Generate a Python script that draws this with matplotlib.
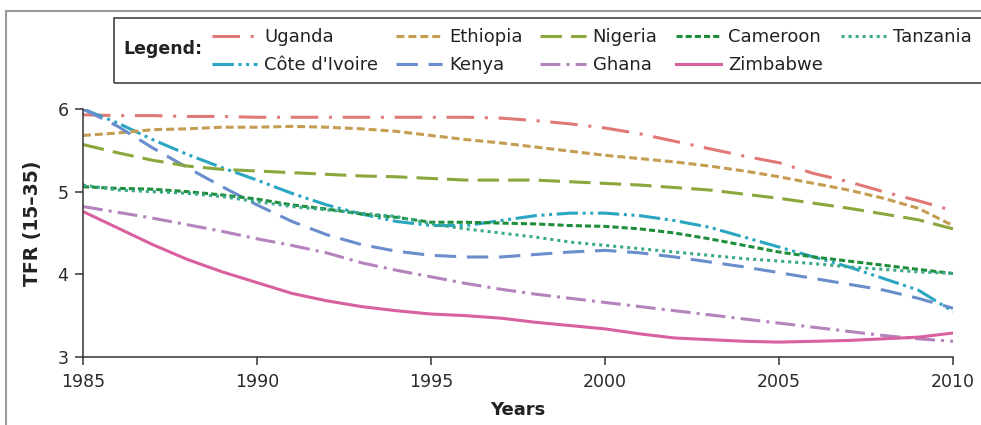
import matplotlib.pyplot as plt
from matplotlib.patches import Rectangle

plt.rcParams['font.family'] = ['DejaVu Sans']

years = list(range(1985, 2011))

uganda = [5.93, 5.92, 5.92, 5.91, 5.91, 5.90, 5.90, 5.90, 5.90, 5.90, 5.90, 5.90, 5.89,
          5.86, 5.82, 5.77, 5.70, 5.61, 5.52, 5.43, 5.35, 5.22, 5.12, 5.00, 4.89, 4.77]
ethiopia = [5.68, 5.71, 5.75, 5.76, 5.78, 5.78, 5.79, 5.78, 5.76, 5.73, 5.68, 5.63, 5.59,
            5.54, 5.49, 5.44, 5.40, 5.36, 5.31, 5.25, 5.18, 5.10, 5.02, 4.92, 4.80, 4.59]
nigeria = [5.57, 5.47, 5.38, 5.31, 5.27, 5.25, 5.23, 5.21, 5.19, 5.18, 5.16, 5.14, 5.14,
           5.14, 5.12, 5.10, 5.08, 5.05, 5.02, 4.97, 4.92, 4.86, 4.80, 4.73, 4.66, 4.55]
cameroon = [5.06, 5.04, 5.03, 5.00, 4.96, 4.91, 4.84, 4.79, 4.73, 4.69, 4.63, 4.63, 4.62,
            4.61, 4.59, 4.58, 4.55, 4.50, 4.43, 4.35, 4.27, 4.21, 4.16, 4.11, 4.06, 4.01]
tanzania = [5.08, 5.02, 5.00, 4.98, 4.94, 4.88, 4.82, 4.78, 4.74, 4.70, 4.61, 4.55, 4.50,
            4.45, 4.39, 4.35, 4.31, 4.27, 4.23, 4.19, 4.16, 4.13, 4.09, 4.06, 4.03, 4.01]
cote = [6.00, 5.83, 5.63, 5.45, 5.29, 5.14, 4.98, 4.84, 4.73, 4.64, 4.59, 4.59, 4.65,
        4.71, 4.74, 4.74, 4.71, 4.65, 4.57, 4.45, 4.33, 4.21, 4.09, 3.95, 3.81, 3.55]
kenya = [6.00, 5.79, 5.53, 5.29, 5.06, 4.84, 4.64, 4.48, 4.36, 4.28, 4.23, 4.21, 4.21,
         4.24, 4.27, 4.29, 4.26, 4.21, 4.15, 4.09, 4.02, 3.95, 3.88, 3.81, 3.71, 3.59]
ghana = [4.82, 4.75, 4.68, 4.60, 4.52, 4.43, 4.35, 4.26, 4.14, 4.05, 3.97, 3.89, 3.82,
         3.76, 3.71, 3.66, 3.61, 3.56, 3.51, 3.46, 3.41, 3.36, 3.31, 3.26, 3.22, 3.19]
zimbabwe = [4.76, 4.56, 4.36, 4.18, 4.03, 3.90, 3.77, 3.68, 3.61, 3.56, 3.52, 3.50, 3.47,
            3.42, 3.38, 3.34, 3.28, 3.23, 3.21, 3.19, 3.18, 3.19, 3.20, 3.22, 3.24, 3.29]

# legend order is column-wise so rows read like the original
series = [
    ("Uganda", uganda, "#e07876", (0, (9, 3.5, 1, 3.5))),
    ("Côte d'Ivoire", cote, "#2aa5c2", (0, (7, 1.5, 1, 1.5, 1, 1.5))),
    ("Ethiopia", ethiopia, "#c49d52", (0, (2.6, 1.3))),
    ("Kenya", kenya, "#6a8ecb", (0, (7, 3.5))),
    ("Nigeria", nigeria, "#8ba63c", (0, (7, 3))),
    ("Ghana", ghana, "#b482bd", (0, (6.5, 2, 1, 2))),
    ("Cameroon", cameroon, "#1f8e3c", (0, (2, 1))),
    ("Zimbabwe", zimbabwe, "#d9609e", "-"),
    ("Tanzania", tanzania, "#3aa98a", (0, (1, 1.3))),
]

fig = plt.figure(figsize=(9.81, 4.25), dpi=100)
ax = fig.add_axes([83 / 981, 1 - 357 / 425, (953 - 83) / 981, (357 - 109) / 425])

for name, vals, col, ls in series:
    ax.plot(years, vals, color=col, linestyle=ls, linewidth=2.2, label=name)

ax.set_xlim(1985, 2010)
ax.set_ylim(3, 6)
ax.set_xticks([1985, 1990, 1995, 2000, 2005, 2010])
ax.set_yticks([3, 4, 5, 6])
ax.spines['top'].set_visible(False)
ax.spines['right'].set_visible(False)
for s in ['left', 'bottom']:
    ax.spines[s].set_color('#333333')
    ax.spines[s].set_linewidth(1.1)
ax.tick_params(colors='#333333', labelcolor='#2a2a2a', labelsize=12.5, length=5.5, width=1.1)
ax.tick_params(axis='x', pad=6)
ax.tick_params(axis='y', pad=5)
ax.set_xlabel("Years", fontsize=13, fontweight='bold', color='#222222', labelpad=7)
ax.set_ylabel("TFR (15–35)", fontsize=13.5, fontweight='bold', color='#222222')
ax.yaxis.set_label_coords(-0.047, 0.54)

# outer grey frame and legend box
fig.add_artist(Rectangle((6 / 981, -0.1), 1.2, 1 - 11 / 425 + 0.1, transform=fig.transFigure,
                         fill=False, edgecolor='#999999', linewidth=1.5))
fig.add_artist(Rectangle((114 / 981, 1 - 83 / 425), 1.0, 65 / 425, transform=fig.transFigure,
                         fill=False, edgecolor='#333333', linewidth=1.1))
fig.text(123 / 981, 1 - 49 / 425, "Legend:", fontsize=12.5, fontweight='bold',
         color='#222222', va='center', ha='left')

handles, labels = ax.get_legend_handles_labels()
fig.legend(handles, labels, ncol=5, loc='upper left', bbox_to_anchor=(203 / 981, 1 - 19 / 425),
           frameon=False, fontsize=13, handlelength=2.5, handletextpad=0.4,
           columnspacing=1.0, labelspacing=0.55, borderpad=0, labelcolor='#222222')

fig.savefig("out.png", dpi=100)
